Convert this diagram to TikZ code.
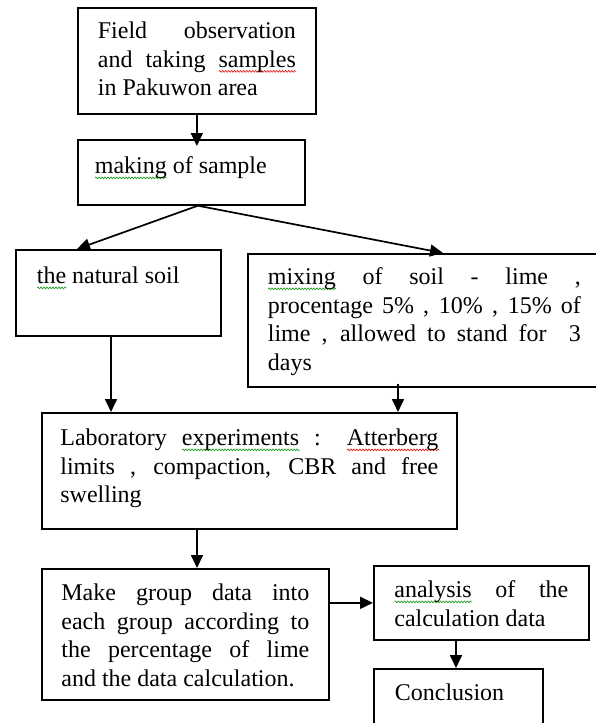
\documentclass[tikz,border=0pt]{standalone}
\usepackage{fontspec}
\setmainfont{Liberation Serif}
\usetikzlibrary{arrows.meta,decorations.pathmorphing}
\definecolor{spellgreenc}{RGB}{40,160,40}
\definecolor{spellredc}{RGB}{230,30,30}
\newsavebox\spellbox
\newcommand\spellwave[2]{\sbox\spellbox{#2}\leavevmode\rlap{\tikz[baseline=0pt]\draw[draw=#1, line width=0.7pt, line join=round, decorate, decoration={zigzag, amplitude=1pt, segment length=3pt}] (0pt,-4pt) -- (\wd\spellbox,-4pt);}\usebox\spellbox}
\newcommand\spellred[1]{\spellwave{spellredc}{#1}}
\newcommand\spellgreen[1]{\spellwave{spellgreenc}{#1}}
\tikzset{
  flowbox/.style n args={4}{draw, line width=1.7pt, anchor=north west, align=justify,
    inner ysep=0pt, text width=#1pt, inner xsep=#2pt, text height=#3pt, text depth=#4pt,
    font=\fontsize{24}{28.5}\selectfont},
  arr/.style={line width=1.7pt, -{Triangle[length=13pt,width=12pt]}}
}
\begin{document}
\begin{tikzpicture}[x=1pt,y=-1pt]
\clip (0,0) rectangle (596,723);
\fill[white] (0,0) rectangle (596,723);
% boxes
\node[flowbox={198}{20}{31}{75}] (b1) at (77,7)
  {Field observation\linebreak and taking \spellred{samples}\linebreak in Pakuwon area};
\node[flowbox={193}{17}{34}{31}] (b2) at (77,139)
  {\spellgreen{making} of sample};
\node[flowbox={163}{21}{34}{52}] (b3) at (15,249)
  {\spellgreen{the} natural soil};
\node[flowbox={313}{20}{31}{102}] (b4) at (247,253)
  {\spellgreen{mixing} of soil - lime ,\linebreak procentage 5\% , 10\% , 15\% of\linebreak lime , allowed to stand for \ 3\linebreak days};
\node[flowbox={378}{18.5}{33}{83}] (b5) at (41,412)
  {Laboratory \spellgreen{experiments} : \spellred{Atterberg}\linebreak limits , compaction, CBR and free\linebreak swelling};
\node[flowbox={248}{19.5}{32}{99}] (b6) at (41,568)
  {Make group data into\linebreak each group according to\linebreak the percentage of lime\linebreak and the data calculation.};
\node[flowbox={174}{20.5}{32}{42}] (b7) at (373,565)
  {\spellgreen{analysis} of the\linebreak calculation data};
\node[flowbox={127}{21}{32}{40}] (b8) at (373,668)
  {Conclusion};
% connectors
\draw[arr, shorten >=-7pt] (b1.south) -- (b1.south |- b2.north);
\coordinate (s2) at ([xshift=6.5pt]b2.south);
\draw[arr] (s2) -- ([xshift=62pt]b3.north west);
\draw[arr] (s2) -- ([xshift=196pt]b4.north west);
\draw[arr] ([xshift=96pt]b3.south west) -- ([xshift=96pt]b3.south west |- b5.north);
\draw[arr] ([xshift=151pt,yshift=4pt]b4.south west) -- ([xshift=151pt]b4.south west |- b5.north);
\draw[arr] ([xshift=156pt]b5.south west) -- ([xshift=156pt]b5.south west |- b6.north);
\draw[arr] (b6.east |- b7.west) -- (b7.west);
\draw[arr] ([xshift=83pt]b7.south west) -- ([xshift=83pt]b7.south west |- b8.north);
\end{tikzpicture}
\end{document}
